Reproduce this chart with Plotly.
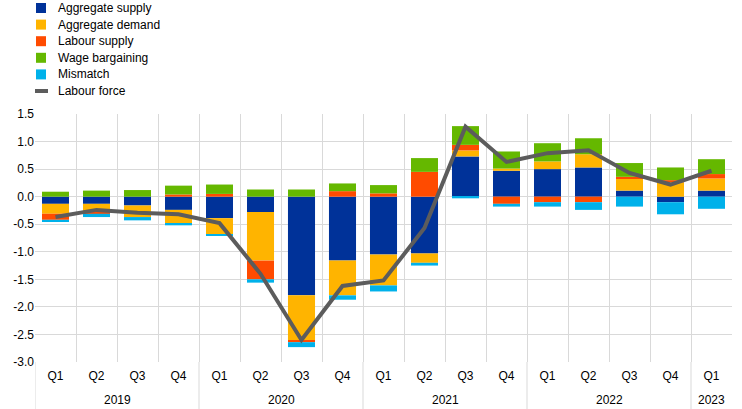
import plotly.graph_objects as go

years = ["2019"] * 4 + ["2020"] * 4 + ["2021"] * 4 + ["2022"] * 4 + ["2023"]
quarters = ["Q1", "Q2", "Q3", "Q4"] * 4 + ["Q1"]

agg_supply = [-0.13, -0.13, -0.16, -0.24, -0.39, -0.28, -1.79, -1.16, -1.05, -1.03, 0.73, 0.47, 0.50, 0.53, 0.11, -0.10, 0.11]
agg_demand = [-0.18, -0.15, -0.21, -0.25, -0.29, -0.88, -0.82, -0.63, -0.56, -0.17, 0.11, 0.04, 0.14, 0.24, 0.22, 0.26, 0.22]
labour_supply = [-0.11, -0.03, 0.0, 0.04, 0.05, -0.34, -0.03, 0.10, 0.06, 0.45, 0.10, -0.13, -0.10, -0.10, 0.03, 0.04, 0.08]
wage_bargaining = [0.09, 0.11, 0.12, 0.16, 0.17, 0.13, 0.13, 0.14, 0.15, 0.25, 0.34, 0.31, 0.33, 0.29, 0.25, 0.23, 0.27]
mismatch = [-0.04, -0.06, -0.06, -0.03, -0.03, -0.06, -0.09, -0.08, -0.11, -0.05, -0.03, -0.05, -0.08, -0.14, -0.18, -0.22, -0.22]
labour_force = [-0.37, -0.24, -0.29, -0.32, -0.48, -1.40, -2.60, -1.62, -1.52, -0.57, 1.27, 0.63, 0.79, 0.84, 0.43, 0.22, 0.47]

y_tick_vals = [1.5, 1.0, 0.5, 0.0, -0.5, -1.0, -1.5, -2.0, -2.5, -3.0]
y_tick_labels = ["1.5", "1.0", "0.5", "0.0", "-0.5", "-1.0", "-1.5", "-2.0", "-2.5", "-3.0"]

series = [
    ("Aggregate supply", agg_supply, "#003299"),
    ("Aggregate demand", agg_demand, "#FFB400"),
    ("Labour supply", labour_supply, "#FF4B00"),
    ("Wage bargaining", wage_bargaining, "#65B800"),
    ("Mismatch", mismatch, "#00B1EA"),
]
line_name, line_color = "Labour force", "#5C5C5C"

n = len(quarters)
x = list(range(n))
fig = go.Figure()
for name, vals, col in series:
    fig.add_trace(go.Bar(x=x, y=vals, name=name, marker=dict(color=col, line=dict(width=0))))
fig.add_trace(go.Scatter(x=x, y=labour_force, name=line_name, mode="lines",
                         line=dict(color=line_color, width=4)))

font = dict(family="Liberation Sans, Arial, sans-serif", size=12, color="#000000")
grid = "#d9d9d9"

# year group positions
groups = []
for i, yv in enumerate(years):
    if not groups or groups[-1][0] != yv:
        groups.append([yv, i, i])
    else:
        groups[-1][2] = i

shapes = []
annotations = []
for yv, i0, i1 in groups:
    annotations.append(dict(x=(i0 + i1) / 2, y=-0.153, xref="x", yref="paper", text=yv,
                            showarrow=False, font=font, xanchor="center", yanchor="middle"))
    shapes.append(dict(type="line", xref="x", yref="paper", x0=i0 - 0.5, x1=i0 - 0.5,
                       y0=0, y1=-0.19, line=dict(color=grid, width=1)))

# legend (top-left, above the plot area), pixel offsets from the plot's top-left corner
legend_items = [(nm, col, "box") for nm, _, col in series] + [(line_name, line_color, "line")]
for k, (nm, col, kind) in enumerate(legend_items):
    off = 106 - k * 16.6
    if kind == "box":
        shapes.append(dict(type="rect", xref="paper", yref="paper", xsizemode="pixel", ysizemode="pixel",
                           xanchor=0, yanchor=1, x0=1, x1=11, y0=off - 5, y1=off + 5,
                           fillcolor=col, line=dict(width=0)))
    else:
        shapes.append(dict(type="line", xref="paper", yref="paper", xsizemode="pixel", ysizemode="pixel",
                           xanchor=0, yanchor=1, x0=0, x1=13, y0=off, y1=off,
                           line=dict(color=col, width=4)))
    annotations.append(dict(x=0, y=1, xref="paper", yref="paper", xshift=21, yshift=off,
                            text=nm, showarrow=False, font=font, xanchor="left", yanchor="middle"))

fig.update_layout(
    width=742, height=409,
    margin=dict(l=35, r=10, t=114, b=47, autoexpand=False),
    barmode="relative", bargap=0.34,
    plot_bgcolor="white", paper_bgcolor="white",
    font=font,
    showlegend=False,
    shapes=shapes,
    annotations=annotations,
)
fig.update_xaxes(range=[-0.5, n - 0.5], tickmode="array", tickvals=x, ticktext=quarters,
                 showgrid=False, ticks="", showline=False, zeroline=False, tickfont=font,
                 ticklabelstandoff=5,
                 minor=dict(tick0=-0.5, dtick=1, showgrid=True, gridcolor=grid, gridwidth=1, ticks=""))
fig.update_yaxes(range=[-3.0, 1.5], tickmode="array", tickvals=y_tick_vals, ticktext=y_tick_labels,
                 showgrid=True, gridcolor=grid, gridwidth=1,
                 zeroline=True, zerolinecolor=grid, zerolinewidth=1, ticks="", tickfont=font)
fig.write_html("out.html", config={"displayModeBar": False},
               post_script="document.body.style.margin='0';")
